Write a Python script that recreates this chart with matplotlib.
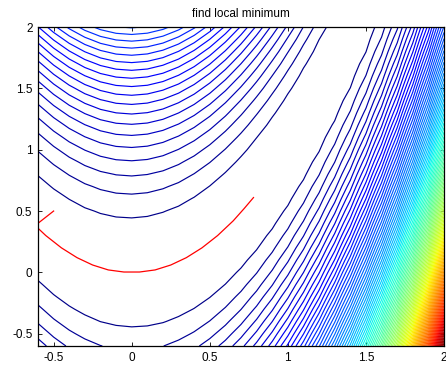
import numpy as np
import matplotlib
matplotlib.use("Agg")
import matplotlib.pyplot as plt
from matplotlib.colors import Normalize

plt.rcParams['font.family'] = ['Liberation Sans', 'DejaVu Sans']

# Sampling grid for the Rosenbrock surface
x_grid = np.arange(-0.6, 2.0001, 0.1)
y_grid = np.arange(-0.6, 2.0001, 0.1)
n_levels = 100

# Descent path (iterates)
path_x = [-0.50, -0.80, -0.65, -0.55, -0.45, -0.35, -0.25, -0.15, -0.05,
          0.05, 0.15, 0.25, 0.35, 0.45, 0.55, 0.65, 0.72, 0.78]
path_y = [0.50, 0.20, 0.42, 0.30, 0.20, 0.12, 0.06, 0.02, 0.003,
          0.003, 0.02, 0.06, 0.12, 0.20, 0.30, 0.42, 0.52, 0.61]

xticks = [-0.5, 0, 0.5, 1, 1.5, 2]
yticks = [-0.5, 0, 0.5, 1, 1.5, 2]
xtick_labels = ['-0.5', '0', '0.5', '1', '1.5', '2']
ytick_labels = ['-0.5', '0', '0.5', '1', '1.5', '2']

X, Y = np.meshgrid(x_grid, y_grid)
Z = 100 * (Y - X ** 2) ** 2 + (1 - X) ** 2
zmin, zmax = Z.min(), Z.max()
levels = np.linspace(zmin, zmax, n_levels + 2)[1:-1]

fig = plt.figure(figsize=(4.46, 3.68), dpi=100)
ax = fig.add_axes([38 / 446, 22 / 368, 406 / 446, 319 / 368])

ax.contour(X, Y, Z, levels=levels, cmap='jet',
           norm=Normalize(vmin=zmin, vmax=zmax), linewidths=0.85)
ax.plot(path_x, path_y, color='red', linewidth=0.9)

ax.set_xlim(-0.6, 2)
ax.set_ylim(-0.6, 2)
ax.set_xticks(xticks)
ax.set_xticklabels(xtick_labels)
ax.set_yticks(yticks)
ax.set_yticklabels(ytick_labels)
ax.tick_params(direction='in', top=True, right=True, length=3, width=0.6,
               labelsize=8.5, pad=4)
for s in ax.spines.values():
    s.set_linewidth(0.9)
ax.set_title('find local minimum', fontsize=8.5, pad=7)

fig.savefig('out.png', dpi=100)
